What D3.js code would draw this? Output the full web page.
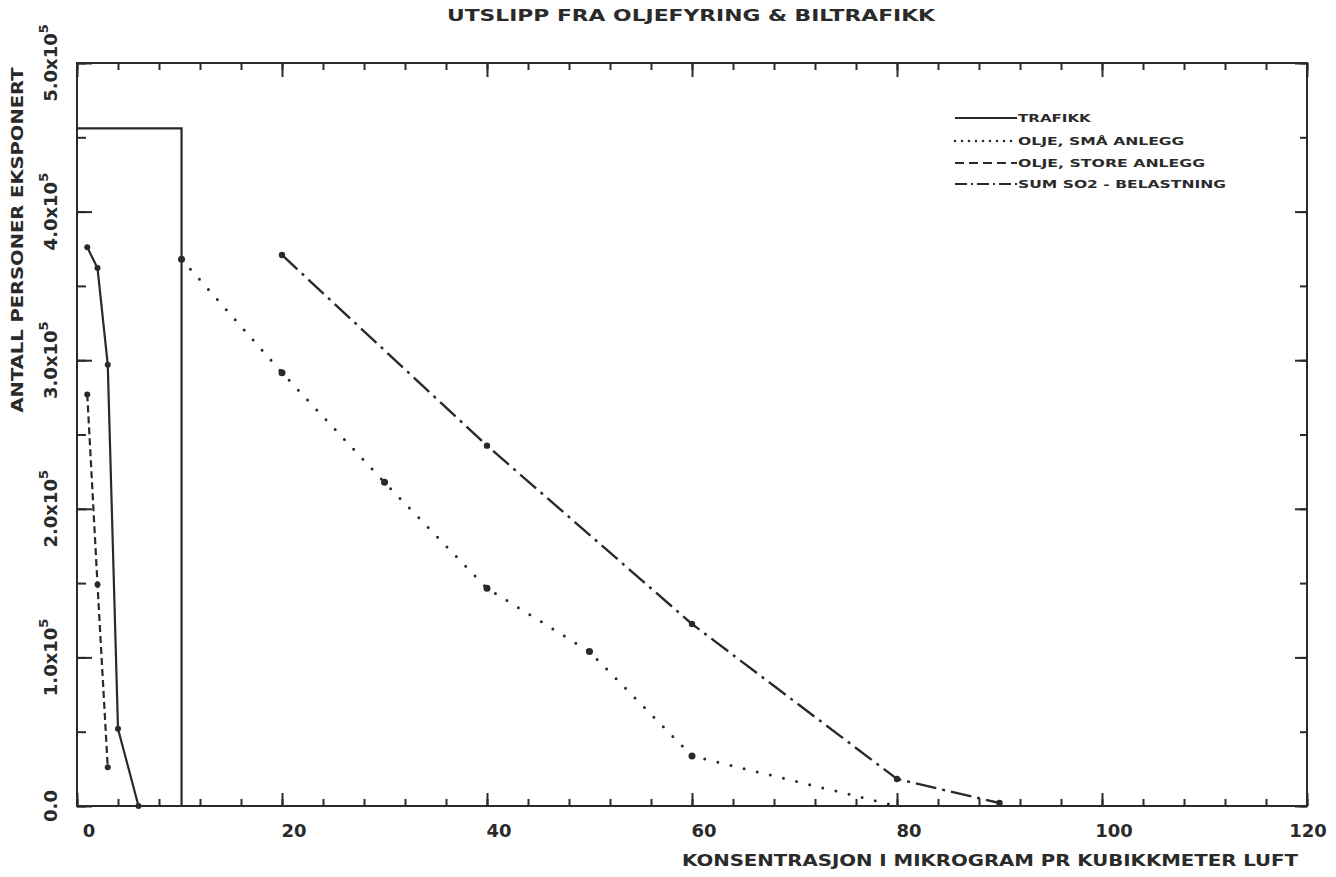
<!DOCTYPE html>
<html><head><meta charset="utf-8">
<script src="https://cdn.jsdelivr.net/npm/d3@7"></script>
<style>body{margin:0;background:#fff}</style>
</head><body><svg id="c" width="1336" height="877"></svg>
<script>
// ---- data ----
const titleText = "UTSLIPP FRA OLJEFYRING & BILTRAFIKK";
const xTitleText = "KONSENTRASJON I MIKROGRAM PR KUBIKKMETER LUFT";
const yTitleText = "ANTALL PERSONER EKSPONERT";
const xTickLabels = [0, 20, 40, 60, 80, 100, 120];
const yTickLabels = [0, 100000, 200000, 300000, 400000, 500000];
const seriesNames = ["TRAFIKK", "OLJE, SMÅ ANLEGG", "OLJE, STORE ANLEGG", "SUM SO2 - BELASTNING"];

const trafikkX = [1, 2, 3, 4, 6];
const trafikkY = [376000, 362000, 297000, 52000, 0];
const trafikkBoxX = [0, 10.2, 10.2];
const trafikkBoxY = [456000, 456000, 0];
const smaX = [10.2, 20, 30, 40, 50, 60, 80];
const smaY = [368000, 291600, 217800, 146500, 103900, 33650, 0];
const smaMarked = [true, true, true, true, true, true, false];
const storeX = [1, 2, 3];
const storeY = [277000, 149000, 26000];
const sumX = [20, 40, 60, 80, 90];
const sumY = [370800, 242500, 122500, 18200, 2000];

// ---- layout ----
const ink = "#2a2a2a";
const svg = d3.select("#c");
const x = d3.scaleLinear().domain([0, 120]).range([77, 1307]);
const y = d3.scaleLinear().domain([0, 500000]).range([806, 63]);
const font = "'DejaVu Sans', sans-serif";

const minorX = d3.range(0, 121, 4);
const majorX = d3.range(0, 121, 20);
const minorY = d3.range(0, 500001, 50000);
const majorY = d3.range(0, 500001, 100000);

function tickAxis(axis, vals, size, tx, ty) {
  const g = svg.append("g").attr("transform", `translate(${tx},${ty})`)
    .call(axis.tickValues(vals).tickSize(-size).tickSizeOuter(0).tickFormat(""));
  g.select(".domain").remove();
  g.selectAll(".tick line").attr("stroke", ink).attr("stroke-width", 2);
}
tickAxis(d3.axisBottom(x), minorX, 7, 0, 806);
tickAxis(d3.axisBottom(x), majorX, 13, 0, 806);
tickAxis(d3.axisTop(x), minorX, 7, 0, 63);
tickAxis(d3.axisTop(x), majorX, 14, 0, 63);
tickAxis(d3.axisLeft(y), minorY, 9, 77, 0);
tickAxis(d3.axisLeft(y), majorY, 15, 77, 0);
tickAxis(d3.axisRight(y), minorY, 7, 1307, 0);
tickAxis(d3.axisRight(y), majorY, 12, 1307, 0);

// frame
svg.append("rect").attr("x", x(0)).attr("y", y(500000))
  .attr("width", x(120) - x(0)).attr("height", y(0) - y(500000))
  .attr("fill", "none").attr("stroke", ink).attr("stroke-width", 2);

// x tick labels
svg.append("g").selectAll("text").data(xTickLabels).join("text")
  .attr("x", d => Math.min(x(d) + 12, 1308)).attr("y", 837)
  .attr("text-anchor", "middle").attr("font-family", font).attr("font-weight", "bold")
  .attr("font-size", 18).attr("fill", ink).text(d => d);

// y tick labels (rotated)
const yl = svg.append("g").selectAll("text").data(yTickLabels).join("text")
  .attr("transform", d => `translate(57,${y(d)}) rotate(-90)`)
  .attr("text-anchor", "middle").attr("font-family", font).attr("font-weight", "bold")
  .attr("font-size", 18).attr("fill", ink);
yl.each(function(d) {
  const t = d3.select(this);
  if (d === 0) { t.text("0.0"); return; }
  t.append("tspan").text((d / 100000).toFixed(1) + "x10");
  t.append("tspan").attr("dy", -9).attr("font-size", 13).text("5");
});

// titles
svg.append("text").attr("x", 691).attr("y", 21).attr("text-anchor", "middle")
  .attr("font-family", font).attr("font-weight", "bold").attr("font-size", 15).attr("fill", ink)
  .attr("textLength", 488).attr("lengthAdjust", "spacingAndGlyphs").text(titleText);
svg.append("text").attr("x", 990).attr("y", 866).attr("text-anchor", "middle")
  .attr("font-family", font).attr("font-weight", "bold").attr("font-size", 16).attr("fill", ink)
  .attr("textLength", 616).attr("lengthAdjust", "spacingAndGlyphs").text(xTitleText);
svg.append("text").attr("transform", "translate(23,240) rotate(-90)").attr("text-anchor", "middle")
  .attr("font-family", font).attr("font-weight", "bold").attr("font-size", 16).attr("fill", ink)
  .attr("textLength", 345).attr("lengthAdjust", "spacingAndGlyphs").text(yTitleText);

// series styles
const styles = [
  { dash: null, width: 2.2, cap: "butt" },
  { dash: "0 13.5", width: 3, cap: "round" },
  { dash: "7 4", width: 2.2, cap: "butt" },
  { dash: "21 6 3 6", width: 2.4, cap: "butt" }
];
const line = d3.line().x(d => x(d[0])).y(d => y(d[1]));
function drawSeries(xs, ys, st, marked, r) {
  const pts = xs.map((v, i) => [v, ys[i]]);
  svg.append("path").datum(pts).attr("d", line).attr("fill", "none")
    .attr("stroke", ink).attr("stroke-width", st.width)
    .attr("stroke-dasharray", st.dash).attr("stroke-linecap", st.cap);
  svg.append("g").selectAll("circle").data(pts.filter((p, i) => !marked || marked[i])).join("circle")
    .attr("cx", d => x(d[0])).attr("cy", d => y(d[1])).attr("r", r).attr("fill", ink);
}
// trafikk box
svg.append("path").datum(trafikkBoxX.map((v, i) => [v, trafikkBoxY[i]])).attr("d", line)
  .attr("fill", "none").attr("stroke", ink).attr("stroke-width", 2.2);
drawSeries(trafikkX, trafikkY, styles[0], null, 3);
drawSeries(smaX, smaY, styles[1], smaMarked, 3.5);
drawSeries(storeX, storeY, styles[2], null, 3);
drawSeries(sumX, sumY, styles[3], null, 3.2);

// legend
const legY = [118, 141, 163, 184];
const lg = svg.append("g");
seriesNames.forEach((name, i) => {
  const st = styles[i];
  lg.append("line").attr("x1", 955).attr("x2", 1017).attr("y1", legY[i]).attr("y2", legY[i])
    .attr("stroke", ink).attr("stroke-width", i === 1 ? 2.6 : 1.8)
    .attr("stroke-dasharray", i === 1 ? "0 7" : (i === 2 ? "9 5" : (i === 3 ? "12 4 2 4" : null)))
    .attr("stroke-linecap", st.cap);
  lg.append("text").attr("x", 1018).attr("y", legY[i] + 4)
    .attr("font-family", font).attr("font-weight", "bold").attr("font-size", 10.5)
    .attr("fill", ink).attr("textLength", name.length * 10.4).attr("lengthAdjust", "spacingAndGlyphs")
    .text(name);
});
</script>
</body></html>
